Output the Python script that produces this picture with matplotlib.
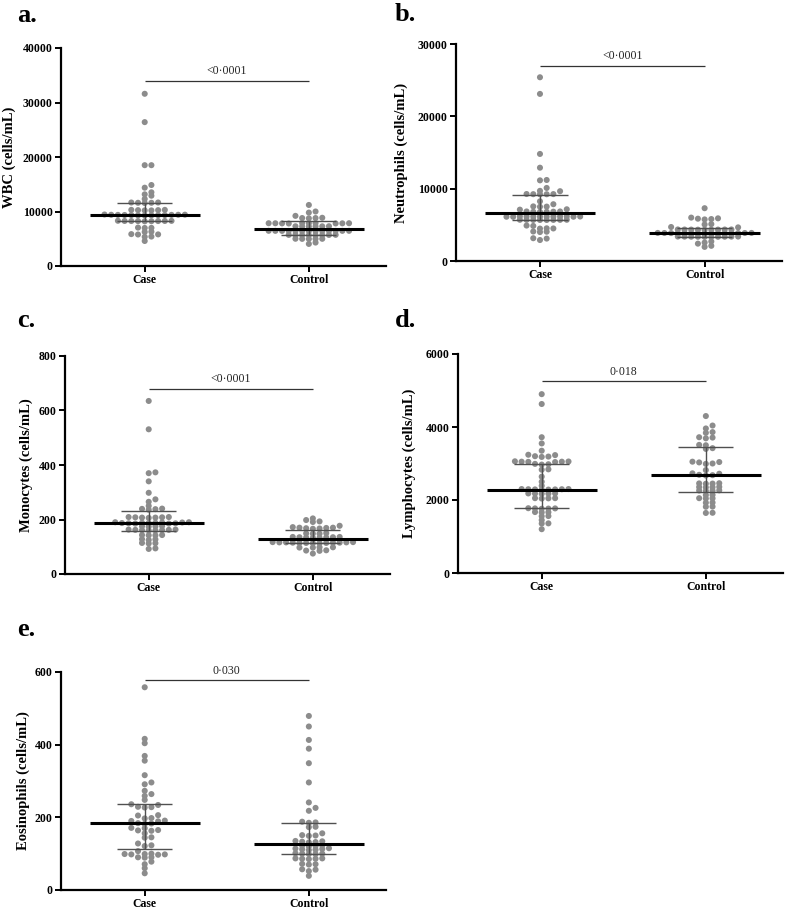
import numpy as np
import matplotlib
matplotlib.use("Agg")
import matplotlib.pyplot as plt

plt.rcParams['font.family'] = ['Liberation Serif', 'DejaVu Serif']

# ---------------- data ----------------
groups = ["Case", "Control"]

wbc_case = [31600, 26400, 18500, 18500, 14860, 14370, 13520, 13150, 12900, 12300,
            11650, 11650, 11600, 11600, 11550,
            10300, 10300, 10250, 10250, 10200, 10200,
            9450, 9420, 9400, 9400, 9380, 9380, 9360, 9350, 9350, 9330, 9300, 9300, 9280,
            8300, 8280, 8260, 8260, 8250, 8250, 8240, 8220, 8200,
            7050, 7000, 6980, 6300, 6250, 5850, 5800, 5780, 5400, 5350, 4590]
wbc_ctrl = [11200, 10000, 9800, 9200, 8850, 8800, 8800, 8750,
            7880, 7870, 7860, 7850, 7850, 7840, 7830, 7820, 7810, 7800,
            7300, 7290, 7280, 7270, 7260, 7250,
            6460, 6455, 6450, 6450, 6445, 6440, 6440, 6435, 6430, 6425, 6420, 6415, 6410,
            5720, 5710, 5700, 5700, 5690, 5680, 5670, 5660,
            5000, 4990, 4980, 4970, 4960, 4300, 4050]

neu_case = [25400, 23100, 14800, 12900, 11200, 11150, 10100, 9700, 9650,
            9260, 9250, 9240, 9230, 9220,
            8250, 7850, 7550, 7520, 7500, 7150, 7100,
            6850, 6850, 6820, 6800, 6800, 6780,
            6160, 6160, 6150, 6150, 6150, 6140, 6140, 6130, 6130, 6120, 6120, 6110,
            5700, 5700, 5690, 5690, 5680, 5680, 5670, 5670,
            4900, 4850, 4520, 4500, 4480, 4080, 4050, 4000, 3150, 3100, 2900]
neu_ctrl = [7300, 6000, 5900, 5850, 5800, 5750, 5100, 5050, 4700, 4650,
            4360, 4360, 4350, 4350, 4340, 4340, 4330, 4330, 4320,
            3880, 3880, 3870, 3870, 3860, 3860, 3850, 3850, 3840, 3840, 3830, 3830, 3820, 3820, 3810,
            3380, 3380, 3370, 3370, 3360, 3360, 3350, 3350, 3340, 3340,
            2700, 2550, 2400, 2100, 1950]

mono_case = [635, 531, 373, 370, 340, 298, 274, 265, 250,
             240, 239, 238, 236,
             209, 209, 208, 208, 207, 207, 206,
             190, 190, 189, 189, 188, 188, 187, 187, 186, 186, 185, 185,
             176, 175, 175, 174,
             163, 163, 162, 162, 161, 161, 160, 160,
             143, 143, 142, 142, 128, 127, 125, 114, 113, 112, 94, 92]
mono_ctrl = [204, 198, 193, 191, 177, 172, 170, 170, 169, 168, 167, 166,
             150, 149, 148, 148,
             136, 136, 135, 135, 134, 134, 133, 133,
             117, 117, 116, 116, 116, 115, 115, 115, 114, 114, 114, 113, 113,
             98, 98, 97, 97, 87, 86, 85, 75]

lym_case = [4900, 4630, 3720, 3550, 3350, 3240, 3230, 3200, 3190, 3180,
            3060, 3055, 3050, 3050, 3045, 3040, 2990, 2980, 2970,
            2840, 2830, 2640, 2500, 2390,
            2300, 2300, 2295, 2295, 2290, 2290, 2285, 2285,
            2180, 2180, 2175, 2175, 2170,
            2050, 2050, 2045, 2040,
            1775, 1770, 1770, 1765, 1760,
            1670, 1665, 1660, 1560, 1555, 1450, 1360, 1355, 1200]
lym_ctrl = [4300, 4040, 3960, 3860, 3840, 3720, 3710, 3690, 3510, 3500, 3420, 3400,
            3050, 3040, 3030, 3000, 2990,
            2820, 2730, 2720, 2690, 2680, 2670,
            2460, 2455, 2450, 2445, 2360, 2355, 2350, 2345,
            2265, 2260, 2255, 2250, 2140, 2135,
            2050, 2045, 2040, 1930, 1925, 1820, 1815, 1650, 1645]

eos_case = [558, 416, 404, 369, 356, 316, 296, 291, 273, 264, 259, 248,
            236, 234, 229, 228, 227,
            206, 205, 198, 197,
            191, 190, 189, 184, 183, 182,
            171, 170, 165, 164, 163,
            156, 145, 144, 128, 123, 121,
            107, 100, 99, 99, 98, 98, 97, 90, 90, 89, 78, 71, 60, 46]
eos_ctrl = [479, 450, 413, 389, 349, 296, 241, 226, 218,
            188, 186, 185, 174, 173, 156, 151, 150, 149,
            135, 134, 133, 132, 131,
            123, 122, 121, 120,
            115, 114, 113, 112, 111, 110,
            101, 100, 100, 99, 99,
            87, 87, 86, 86, 85,
            72, 71, 70, 57, 56, 52, 39]

# median and interquartile range: [Case, Control]
medians = {"a": [9400, 6850], "b": [6600, 3850], "c": [187, 128],
           "d": [2280, 2690], "e": [184, 127]}
q1s = {"a": [8260, 5690], "b": [5600, 3250], "c": [159, 113],
       "d": [1790, 2230], "e": [112, 99]}
q3s = {"a": [11600, 8260], "b": [9150, 4600], "c": [233, 162],
       "d": [3000, 3440], "e": [236, 184]}

pvalues = {"a": "<0\u00b70001", "b": "<0\u00b70001", "c": "<0\u00b70001",
           "d": "0\u00b7018", "e": "0\u00b7030"}
bracket_y = {"a": 34000, "b": 27000, "c": 680, "d": 5250, "e": 578}

ylabels = {"a": "WBC (cells/mL)", "b": "Neutrophils (cells/mL)",
           "c": "Monocytes (cells/mL)", "d": "Lymphocytes (cells/mL)",
           "e": "Eosinophils (cells/mL)"}
yticks = {"a": [0, 10000, 20000, 30000, 40000], "b": [0, 10000, 20000, 30000],
          "c": [0, 200, 400, 600, 800], "d": [0, 2000, 4000, 6000],
          "e": [0, 200, 400, 600]}
series = {"a": (wbc_case, wbc_ctrl), "b": (neu_case, neu_ctrl),
          "c": (mono_case, mono_ctrl), "d": (lym_case, lym_ctrl),
          "e": (eos_case, eos_ctrl)}

# ---------------- layout ----------------
W, H = 787, 909
fig = plt.figure(figsize=(W / 100, H / 100), dpi=100)

# axes rectangles in pixels: left, top, right, bottom
rects = {"a": (61, 48, 386, 266), "b": (456, 44, 782, 261),
         "c": (65, 356, 390, 574), "d": (458, 354, 783, 573),
         "e": (61, 672, 386, 890)}
label_right_px = {"a": 16, "b": 408, "c": 33, "d": 416, "e": 30}
letter_pos = {"a": (17, 22), "b": (395, 21), "c": (17, 327), "d": (395, 327),
              "e": (17, 636)}

XLIM = (0.49, 2.47)
COL_PX = 6.7
ROW_GAP_PX = 3.3
DOT = '#8c8c8c'


def swarm_cols(vals, px_per_y):
    vals = np.asarray(vals, dtype=float)
    order = np.argsort(vals, kind='stable')
    placed = []
    cols = np.zeros(len(vals))
    for i in order:
        y = vals[i] * px_per_y
        k = 0
        while True:
            c = 0 if k == 0 else ((k + 1) // 2 if k % 2 == 1 else -(k // 2))
            if not any(pc == c and abs(py - y) < ROW_GAP_PX for pc, py in placed):
                break
            k += 1
        placed.append((c, y))
        cols[i] = c
    return cols


for key in "abcde":
    l, t, r, b = rects[key]
    ax = fig.add_axes([l / W, 1 - b / H, (r - l) / W, (b - t) / H])
    ymax = yticks[key][-1]
    ax.set_xlim(*XLIM)
    ax.set_ylim(0, ymax)
    px_per_x = (r - l) / (XLIM[1] - XLIM[0])
    px_per_y = (b - t) / ymax

    for gi, vals in enumerate(series[key]):
        xc = gi + 1
        cols = swarm_cols(vals, px_per_y)
        xs = xc + cols * COL_PX / px_per_x
        ax.scatter(xs, vals, s=19, color=DOT, edgecolors='none', zorder=2,
                   clip_on=False)
        med, lo, hi = medians[key][gi], q1s[key][gi], q3s[key][gi]
        ax.hlines(med, xc - 0.335, xc + 0.335, color='black', lw=2.2, zorder=4)
        ax.hlines([lo, hi], xc - 0.168, xc + 0.168, color='#505050', lw=1.0, zorder=3)
        ax.vlines(xc, lo, hi, color='#505050', lw=1.0, zorder=3)

    # significance bracket
    by = bracket_y[key]
    ax.hlines(by, 1, 2, color='#333333', lw=0.9, zorder=3)
    ax.annotate(pvalues[key], xy=(1.5, by), xytext=(0, 2.5),
                textcoords='offset points', ha='center', va='bottom',
                fontsize=8.5, color='#222222')

    for side in ('top', 'right'):
        ax.spines[side].set_visible(False)
    for side in ('left', 'bottom'):
        ax.spines[side].set_linewidth(1.6)
    ax.set_yticks(yticks[key])
    ax.set_yticklabels([str(v) for v in yticks[key]], fontsize=8.5, fontweight='bold')
    ax.set_xticks([1, 2])
    ax.set_xticklabels(groups, fontsize=8.5, fontweight='bold')
    ax.tick_params(axis='both', direction='out', length=4, width=1.4, pad=2)
    ax.set_ylabel(ylabels[key], fontsize=10.5, fontweight='bold')
    ax.yaxis.set_label_coords((label_right_px[key] - l) / (r - l), 0.5)

    lx, ly = letter_pos[key]
    fig.text(lx / W, 1 - ly / H, key + ".", fontsize=19, fontweight='bold',
             ha='left', va='baseline')

fig.savefig("out.png", dpi=100)
